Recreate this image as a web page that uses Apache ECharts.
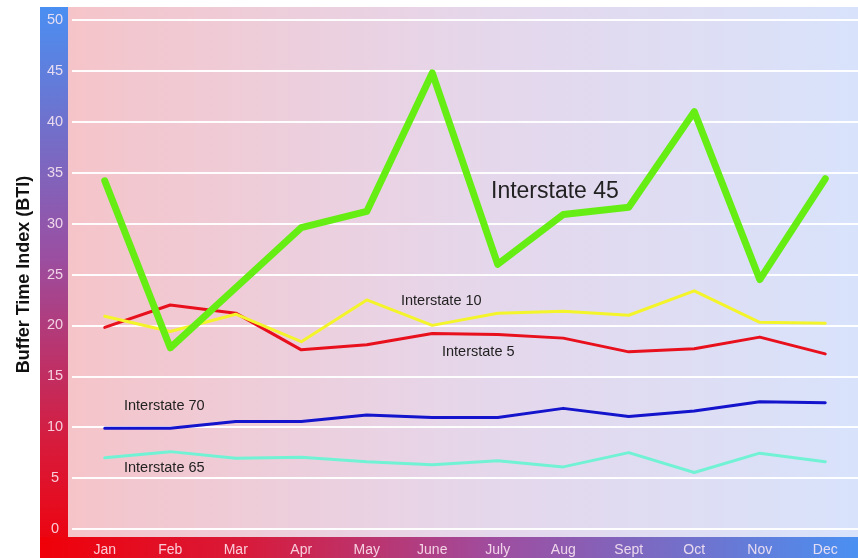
<!DOCTYPE html>
<html>
<head>
<meta charset="utf-8">
<script src="https://cdn.jsdelivr.net/npm/echarts@6/dist/echarts.min.js"></script>
<style>html,body{margin:0;padding:0;background:#fff}#c{width:858px;height:558px}</style>
</head>
<body>
<div id="c"></div>
<script>
var months = ['Jan','Feb','Mar','Apr','May','June','July','Aug','Sept','Oct','Nov','Dec'];
var yTicks = [0, 5, 10, 15, 20, 25, 30, 35, 40, 45, 50];
var i45 = [34.2, 17.8, 23.7, 29.6, 31.2, 44.8, 26.0, 30.9, 31.6, 41.0, 24.5, 34.4];
var i10 = [20.9, 19.4, 21.1, 18.4, 22.5, 20.0, 21.2, 21.4, 21.0, 23.4, 20.3, 20.2];
var i5  = [19.8, 22.0, 21.2, 17.6, 18.1, 19.2, 19.1, 18.75, 17.4, 17.7, 18.85, 17.2];
var i70 = [9.9, 9.9, 10.55, 10.55, 11.2, 10.95, 10.95, 11.85, 11.05, 11.6, 12.5, 12.4];
var i65 = [7.0, 7.6, 6.95, 7.05, 6.6, 6.3, 6.7, 6.1, 7.5, 5.55, 7.45, 6.6];

var chart = echarts.init(document.getElementById('c'), null, {renderer: 'canvas'});
var font = 'Liberation Sans, Arial, sans-serif';

function lineSeries(name, data, color, width) {
  return {
    name: name, type: 'line', data: data, symbol: 'none', smooth: false,
    lineStyle: {color: color, width: width, cap: 'round', join: 'round'},
    z: 3
  };
}

var option = {
  backgroundColor: '#ffffff',
  animation: false,
  grid: {left: 72, top: 20, width: 787, bottom: 29, containLabel: false},
  xAxis: {
    type: 'category', data: months, boundaryGap: true,
    axisLine: {show: false}, axisTick: {show: false}, splitLine: {show: false},
    axisLabel: {color: 'rgba(255,236,244,0.85)', fontSize: 14, fontFamily: font, margin: 14}
  },
  yAxis: {
    type: 'value', min: yTicks[0], max: yTicks[yTicks.length - 1], interval: 5,
    name: 'Buffer Time Index (BTI)', nameLocation: 'middle', nameGap: 39,
    nameTextStyle: {color: '#111', fontSize: 18, fontWeight: 'bold', fontFamily: font},
    axisLine: {show: false}, axisTick: {show: false},
    splitLine: {lineStyle: {color: 'rgba(255,255,255,0.95)', width: 2}},
    axisLabel: {color: 'rgba(255,236,244,0.85)', fontSize: 14.5, fontFamily: font, align: 'center', margin: 17}
  },
  graphic: [
    {type: 'rect', z: -10, shape: {x: 68, y: 7, width: 790, height: 530},
     style: {fill: {type: 'linear', x: 0, y: 0, x2: 1, y2: 0, colorStops: [
       {offset: 0, color: '#f5c4c9'}, {offset: 0.5, color: '#e6d6ea'}, {offset: 1, color: '#d8e3fb'}]}}},
    {type: 'rect', z: -10, shape: {x: 40, y: 7, width: 28, height: 551},
     style: {fill: {type: 'linear', x: 0, y: 0, x2: 0, y2: 1, colorStops: [
       {offset: 0, color: '#4a8ff2'}, {offset: 0.45, color: '#9a4fa2'}, {offset: 0.8, color: '#d81a3a'}, {offset: 1, color: '#f00008'}]}}},
    {type: 'rect', z: -10, shape: {x: 40, y: 537, width: 818, height: 21},
     style: {fill: {type: 'linear', x: 0, y: 0, x2: 1, y2: 0, colorStops: [
       {offset: 0, color: '#f00008'}, {offset: 0.25, color: '#d81a3a'}, {offset: 0.55, color: '#a04c9e'}, {offset: 1, color: '#4a90f2'}]}}},
    {type: 'text', z: 10, x: 491, y: 192, style: {text: 'Interstate 45', fill: '#222', font: '23px ' + font, verticalAlign: 'middle'}},
    {type: 'text', z: 10, x: 401, y: 301, style: {text: 'Interstate 10', fill: '#222', font: '14.5px ' + font, verticalAlign: 'middle'}},
    {type: 'text', z: 10, x: 442, y: 352, style: {text: 'Interstate 5', fill: '#222', font: '14.5px ' + font, verticalAlign: 'middle'}},
    {type: 'text', z: 10, x: 124, y: 406, style: {text: 'Interstate 70', fill: '#222', font: '14.5px ' + font, verticalAlign: 'middle'}},
    {type: 'text', z: 10, x: 124, y: 468, style: {text: 'Interstate 65', fill: '#222', font: '14.5px ' + font, verticalAlign: 'middle'}}
  ],
  series: [
    lineSeries('Interstate 65', i65, '#72f2d4', 3),
    lineSeries('Interstate 70', i70, '#1414cc', 3),
    lineSeries('Interstate 5', i5, '#e8101c', 3),
    lineSeries('Interstate 10', i10, '#f4f42a', 3),
    lineSeries('Interstate 45', i45, '#66ee14', 7)
  ]
};
chart.setOption(option);
</script>
</body>
</html>
